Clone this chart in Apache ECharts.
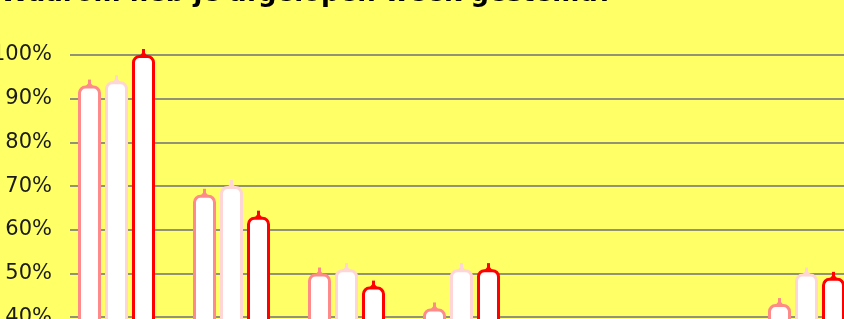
<!DOCTYPE html>
<html>
  <head>
    <meta charset="utf-8" />
    <title>Waarom heb je afgelopen week gestemd?</title>
    <script src="https://cdn.jsdelivr.net/npm/echarts@6/dist/echarts.min.js"></script>
  </head>
  <body style="margin: 0; overflow: hidden; background: #ffff66">
    <div id="container" style="width: 1000px; height: 560px"></div>

    <script type="text/javascript">
      var titleText = 'Waarom heb je afgelopen week gestemd?';
      var categories = ['Reden 1', 'Reden 2', 'Reden 3', 'Reden 4', 'Reden 5', 'Reden 6', 'Reden 7'];
      var seriesNames = ['Meting 1', 'Meting 2', 'Meting 3'];
      var valuesA = [93, 68, 50, 42, 30, 25, 43];
      var valuesB = [94, 70, 51, 51, 28, 22, 50];
      var valuesC = [100, 63, 47, 51, 32, 26, 49];
      var yTicks = [0, 10, 20, 30, 40, 50, 60, 70, 80, 90, 100];

      var colors = ['#ff8a8a', '#ffd6d6', '#ff0000'];
      var offsets = [-27, 0, 27];

      var dom = document.getElementById('container');
      var myChart = echarts.init(dom);

      // buisvormige staaf: witte body met ronde kop en een klein nopje
      function tubeRender(offset, color) {
        return function (params, api) {
          var top = api.coord([api.value(0), api.value(1)]);
          var base = api.coord([api.value(0), 0]);
          var cx = top[0] + offset;
          var w = 20;
          var y0 = top[1];
          return {
            type: 'group',
            children: [
              {
                type: 'rect',
                shape: { x: cx - w / 2, y: y0 + 1.5, width: w, height: base[1] - y0, r: [6, 6, 0, 0] },
                style: { fill: '#ffffff', stroke: color, lineWidth: 3 }
              },
              {
                type: 'rect',
                shape: { x: cx - 1.5, y: y0 - 6, width: 3, height: 7 },
                style: { fill: color }
              },
              {
                type: 'polygon',
                shape: { points: [[cx - 4, y0 + 1], [cx + 4, y0 + 1], [cx + 1.5, y0 - 2], [cx - 1.5, y0 - 2]] },
                style: { fill: color }
              }
            ]
          };
        };
      }

      function toData(vals) {
        return vals.map(function (v, i) { return [i, v]; });
      }

      var allValues = [valuesA, valuesB, valuesC];
      var series = allValues.map(function (vals, k) {
        return {
          name: seriesNames[k],
          type: 'custom',
          xAxisIndex: 1,
          yAxisIndex: 1,
          renderItem: tubeRender(offsets[k], colors[k]),
          encode: { x: 0, y: 1 },
          data: toData(vals)
        };
      });

      myChart.setOption({
        backgroundColor: '#ffff66',
        animation: false,
        graphic: [
          {
            type: 'text',
            left: 0,
            top: -19,
            style: {
              text: titleText,
              fontFamily: 'DejaVu Sans',
              fontWeight: 'bold',
              fontSize: 26,
              fill: '#000000'
            }
          }
        ],
        grid: [
          { left: 70, right: 0, top: 55, bottom: 68, outerBoundsMode: 'none' },
          { left: 59, width: 805, top: 55, bottom: 68, outerBoundsMode: 'none' }
        ],
        xAxis: [
          { type: 'category', gridIndex: 0, data: categories, show: false },
          { type: 'category', gridIndex: 1, data: categories, show: false }
        ],
        yAxis: [
          {
            type: 'value',
            gridIndex: 0,
            min: yTicks[0],
            max: yTicks[yTicks.length - 1],
            interval: 10,
            axisLine: { show: false },
            axisTick: { show: false },
            axisLabel: {
              formatter: '{value}%',
              fontFamily: 'DejaVu Sans',
              fontSize: 21,
              color: '#1a1a1a',
              margin: 18
            },
            splitLine: { lineStyle: { color: '#929274', width: 2 } }
          },
          {
            type: 'value',
            gridIndex: 1,
            min: yTicks[0],
            max: yTicks[yTicks.length - 1],
            interval: 10,
            show: false,
            splitLine: { show: false }
          }
        ],
        series: series
      });
    </script>
  </body>
</html>
